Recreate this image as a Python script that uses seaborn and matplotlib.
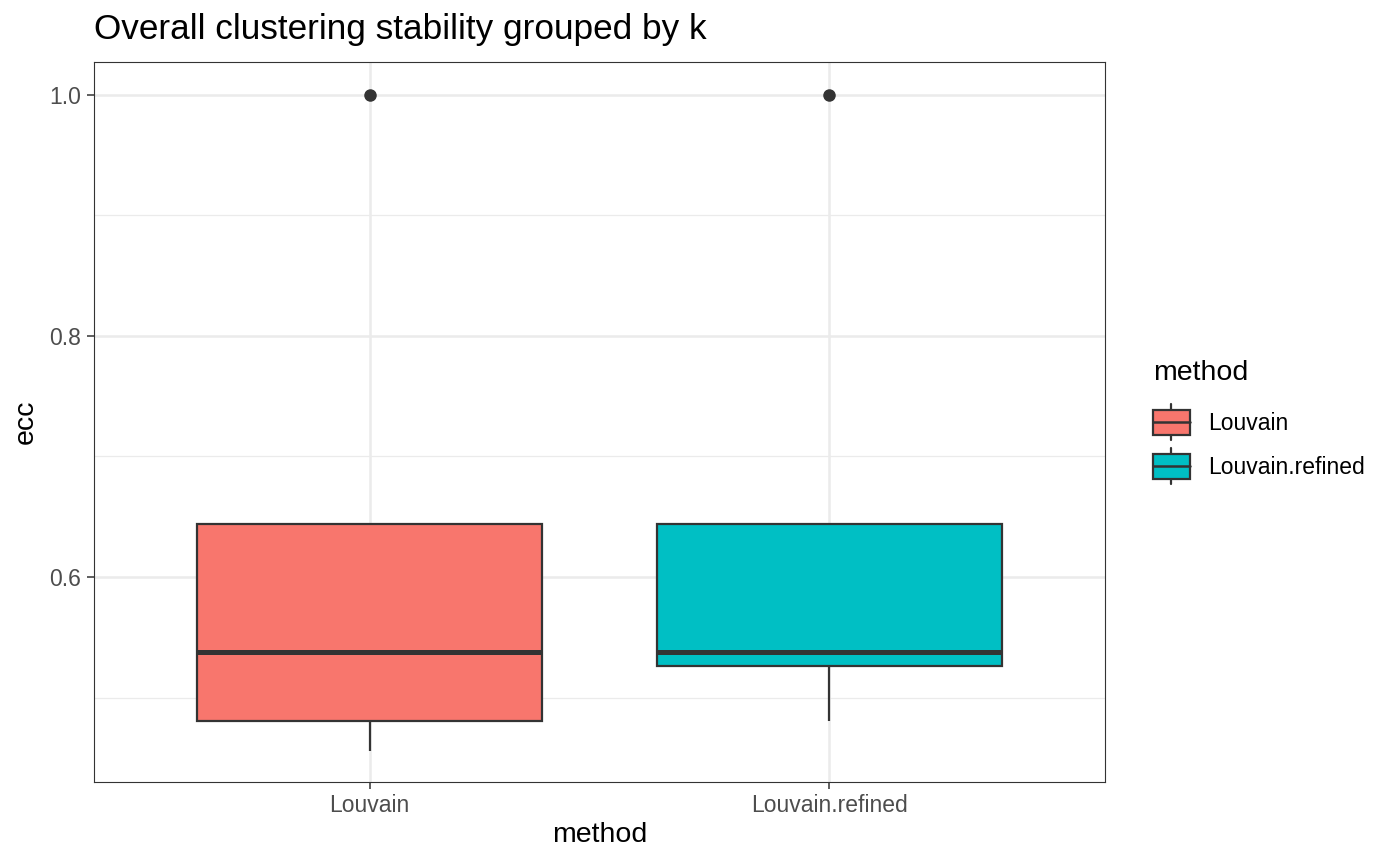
import matplotlib
matplotlib.use("Agg")
import matplotlib.pyplot as plt
import seaborn as sns
import pandas as pd
from matplotlib.ticker import MultipleLocator
from matplotlib.patches import Rectangle
from matplotlib.lines import Line2D
from matplotlib.legend_handler import HandlerBase

# values
louvain_ecc = [0.456, 0.4805, 0.538, 0.644, 1.0]
refined_ecc = [0.4805, 0.526, 0.538, 0.644, 1.0]
methods = ["Louvain", "Louvain.refined"]
colors = ["#F8766D", "#00BFC4"]

df = pd.DataFrame({
    "method": [methods[0]] * len(louvain_ecc) + [methods[1]] * len(refined_ecc),
    "ecc": louvain_ecc + refined_ecc,
})

sns.set_theme(style="white")
plt.rcParams["font.family"] = ["Liberation Sans", "DejaVu Sans"]
plt.rcParams["text.color"] = "black"

fig = plt.figure(figsize=(14, 8.66), dpi=100)
ax = fig.add_axes([94 / 1400, 84 / 866, (1105 - 94) / 1400, (782 - 62) / 866])

edge = "#333333"
sns.boxplot(data=df, x="method", y="ecc", hue="method", palette=colors,
            order=methods, hue_order=methods, width=0.75, dodge=False,
            saturation=1, linecolor=edge, linewidth=1.6, legend=False,
            flierprops=dict(marker="o", markerfacecolor=edge, markeredgecolor=edge, markersize=8),
            medianprops=dict(color=edge, linewidth=3.6),
            whiskerprops=dict(color=edge, linewidth=1.6),
            capprops=dict(linewidth=0),
            ax=ax, zorder=3)

ax.set_xlim(-0.6, 1.6)
ax.set_ylim(0.43, 1.027)
ax.yaxis.set_minor_locator(MultipleLocator(0.1))
ax.set_yticks([0.6, 0.8, 1.0])
ax.set_yticklabels(["0.6", "0.8", "1.0"])
ax.grid(True, which="major", color="#EBEBEB", linewidth=1.8, zorder=0)
ax.grid(True, which="minor", axis="y", color="#EBEBEB", linewidth=0.9, zorder=0)
ax.set_axisbelow(True)
for s in ax.spines.values():
    s.set_color("#333333")
    s.set_linewidth(0.8)
ax.tick_params(axis="both", which="major", length=5, width=1.1, color="#333333",
               labelsize=16.5, labelcolor="#4D4D4D", pad=4, left=True, bottom=True)
ax.tick_params(axis="both", which="minor", length=0)
ax.set_xlabel("method", fontsize=20.5, color="black", labelpad=3)
ax.set_ylabel("ecc", fontsize=20.5, color="black", labelpad=8)
fig.text(94 / 1400, 1 - 30 / 866, "Overall clustering stability grouped by k",
         fontsize=25.3, ha="left", va="center", color="black")


class BoxHandler(HandlerBase):
    def create_artists(self, legend, orig_handle, xdescent, ydescent, width, height, fontsize, trans):
        fc = orig_handle.get_facecolor()
        x0 = -xdescent
        y0 = -ydescent
        h = 18.0
        w = width
        yb = y0 + (height - h) / 2
        arts = [
            Line2D([x0 + w / 2, x0 + w / 2], [yb - 3.8, yb + h + 3.8],
                   color=edge, lw=1.6, transform=trans),
            Rectangle((x0, yb), w, h, facecolor=fc, edgecolor=edge, lw=1.6, transform=trans),
            Line2D([x0, x0 + w], [yb + h / 2, yb + h / 2], color=edge, lw=1.8, transform=trans),
        ]
        return arts


handles = [Rectangle((0, 0), 1, 1, facecolor=c) for c in colors]
leg = fig.legend(handles, methods, title="method", loc="upper left",
                 bbox_to_anchor=(1153 / 1400, 1 - 360 / 866), frameon=False,
                 borderpad=0, borderaxespad=0,
                 fontsize=16.5, title_fontsize=20.5, handler_map={Rectangle: BoxHandler()},
                 handlelength=1.6, handleheight=1.3, labelspacing=0.82, handletextpad=0.8,
                 alignment="left")
leg._legend_box.sep = 17

fig.savefig("out.png", dpi=100)
